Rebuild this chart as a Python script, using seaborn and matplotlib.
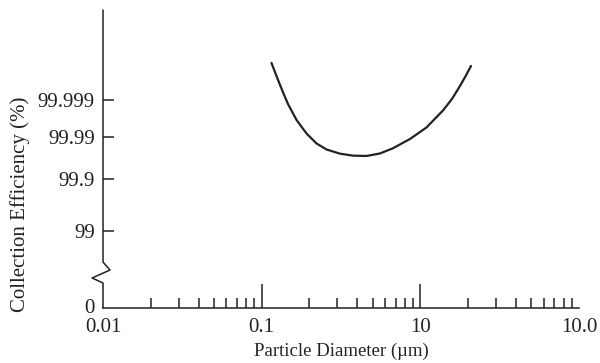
from statistics import NormalDist

import numpy as np
import pandas as pd
import seaborn as sns
import matplotlib.pyplot as plt
from matplotlib.ticker import FixedLocator, LogLocator, NullFormatter

# values
diameter_um = [0.1153, 0.1222, 0.1305, 0.1383, 0.1465, 0.1658, 0.1917, 0.2216,
               0.2563, 0.3116, 0.3764, 0.4578, 0.5568, 0.6724, 0.8607, 1.0935,
               1.389, 1.583, 1.778, 1.940, 2.086]
efficiency_pct = [99.9999262, 99.999841, 99.9996407, 99.9992967, 99.9987009,
                  99.9963906, 99.991793, 99.985287, 99.979321, 99.97388,
                  99.970854, 99.970363, 99.97417, 99.980682, 99.988651,
                  99.9942785, 99.9980197, 99.9990675, 99.999615, 99.9998165,
                  99.9999079]

x_ticks = [0.01, 0.1, 1, 10]
x_tick_labels = ['0.01', '0.1', '10', '10.0']
y_ticks = [99, 99.9, 99.99, 99.999]
y_tick_labels = ['99', '99.9', '99.99', '99.999']

INK = '#222222'

# probability (probit) scale for the efficiency axis
_nd = NormalDist()
_ppf = np.vectorize(lambda p: _nd.inv_cdf(min(max(p, 1e-15), 1 - 1e-15)), otypes=[float])
_cdf = np.vectorize(_nd.cdf, otypes=[float])


def to_probit(eff):
    return _ppf(np.asarray(eff, dtype=float) / 100.0)


def from_probit(z):
    return 100.0 * _cdf(np.asarray(z, dtype=float))


sns.set_theme(style='white')
plt.rcParams['font.family'] = ['Liberation Serif', 'DejaVu Serif']

df = pd.DataFrame({'d': diameter_um, 'eff': efficiency_pct})

fig = plt.figure(figsize=(6, 3.63), dpi=100)
ax = fig.add_axes([0.1717, 0.1515, 0.7933, 0.821])

sns.lineplot(data=df, x='d', y='eff', ax=ax, estimator=None, sort=True,
             color=INK, linewidth=1.6, solid_joinstyle='round')

ax.set_xscale('log')
ax.set_yscale('function', functions=(to_probit, from_probit))
ax.set_xlim(0.01, 10)
ax.set_ylim(float(from_probit(1.18)), float(from_probit(5.6)))

# x ticks
ax.xaxis.set_major_locator(FixedLocator(x_ticks))
ax.set_xticklabels(x_tick_labels)
ax.xaxis.set_minor_locator(LogLocator(base=10, subs=np.arange(2, 10)))
ax.xaxis.set_minor_formatter(NullFormatter())
ax.tick_params(axis='x', which='both', bottom=True, top=False)
ax.tick_params(axis='x', which='major', direction='in', length=17, width=1.1,
               color=INK, labelsize=15, labelcolor=INK, pad=7)
ax.tick_params(axis='x', which='minor', direction='in', length=7, width=1.1,
               color=INK)
xt = ax.xaxis.get_major_ticks()
xt[0].tick1line.set_visible(False)
xt[-1].tick1line.set_visible(False)

# y ticks, "0" sits at the broken bottom of the axis
ax.yaxis.set_major_locator(FixedLocator([float(from_probit(1.21))] + y_ticks))
ax.set_yticklabels(['0'] + y_tick_labels)
ax.yaxis.set_minor_locator(FixedLocator([]))
ax.tick_params(axis='y', which='major', left=True, right=False, direction='in',
               length=8, width=1.1, color=INK, labelsize=15, labelcolor=INK, pad=6)
ax.yaxis.get_major_ticks()[0].tick1line.set_visible(False)

for side in ['top', 'right', 'left']:
    ax.spines[side].set_visible(False)
ax.spines['bottom'].set_color(INK)
ax.spines['bottom'].set_linewidth(1.1)

# left axis line with a zigzag break
ax.plot([0, 0, 0.0147, -0.023, 0, 0], [1, 0.154, 0.1275, 0.1007, 0.0839, 0],
        transform=ax.transAxes, clip_on=False, color=INK, lw=1.1)

ax.set_xlabel('Particle Diameter (µm)', fontsize=13.5, color=INK)
ax.set_ylabel('Collection Efficiency (%)', fontsize=15, color=INK)
ax.xaxis.set_label_coords(0.5, -0.115)
ax.yaxis.set_label_coords(-0.153, 0.349)

fig.savefig('out.png', dpi=100)
plt.close()
